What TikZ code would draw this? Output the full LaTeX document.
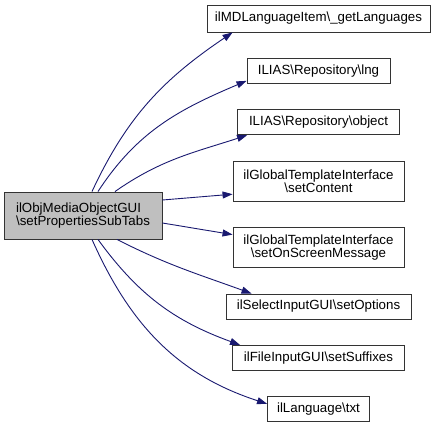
\documentclass[tikz,border=0pt]{standalone}
\usepackage{fontspec}
\setmainfont{Liberation Sans}
\usepackage{tikz}
\usetikzlibrary{arrows.meta,positioning}

\definecolor{edgeblue}{RGB}{25,25,112}
\definecolor{srcgray}{RGB}{191,191,191}

\begin{document}
\begin{tikzpicture}[
  x=1pt, y=1pt,
  node distance=25.5pt,
  font=\fontsize{13.3}{13.3}\selectfont,
  box/.style={draw=black!80, line width=0.9pt, align=center, inner xsep=4pt, inner ysep=5pt, minimum height=25pt},
  twobox/.style={box, minimum height=40pt},
  srcbox/.style={box, fill=srcgray, align=left, minimum height=47pt},
  call/.style={draw=edgeblue, line width=0.9pt, -{Triangle[length=10pt,width=7pt]}}
]
\useasboundingbox (0,0) rectangle (436,-423);

\node[srcbox, minimum width=158pt] (src) at (83,-215.5) {ilObjMediaObjectGUI\\\textbackslash setPropertiesSubTabs};

\node[box, minimum width=223pt, minimum height=27pt] (lang) at (318.5,-18.5) {ilMDLanguageItem\textbackslash \_getLanguages};
\node[box, minimum width=143pt, below=of lang] (lng) {ILIAS\textbackslash Repository\textbackslash lng};
\node[box, minimum width=162pt, below=of lng] (object) {ILIAS\textbackslash Repository\textbackslash object};
\node[twobox, minimum width=171pt, below=of object] (content) {ilGlobalTemplateInterface\\\textbackslash setContent};
\node[twobox, minimum width=171pt, below=of content] (msg) {ilGlobalTemplateInterface\\\textbackslash setOnScreenMessage};
\node[box, minimum width=185pt, below=of msg] (options) {ilSelectInputGUI\textbackslash setOptions};
\node[box, minimum width=172pt, below=of options] (suffixes) {ilFileInputGUI\textbackslash setSuffixes};
\node[box, minimum width=102pt, below=of suffixes] (txt) {ilLanguage\textbackslash txt};

% calls
\draw[call] ([xshift=9pt]src.north) to[out=65,in=214] ([xshift=26pt]lang.south west);
\draw[call] ([xshift=15pt]src.north) to[out=57,in=203] ([yshift=3pt]lng.south west);
\draw[call] ([xshift=32pt]src.north) to[out=35,in=198] ([xshift=10pt]object.south west);
\draw[call] ([yshift=15.5pt]src.east) -- ([yshift=-13pt]content.west);
\draw[call] ([yshift=-7.5pt]src.east) -- ([yshift=13pt]msg.west);
\draw[call] ([xshift=34pt]src.south) to[out=-27,in=160] ([xshift=26pt]options.north west);
\draw[call] ([xshift=15pt]src.south) to[out=-54,in=160] ([xshift=8pt]suffixes.north west);
\draw[call] ([xshift=9pt]src.south) to[out=-66,in=162] ([yshift=5.5pt]txt.west);
\end{tikzpicture}
\end{document}
